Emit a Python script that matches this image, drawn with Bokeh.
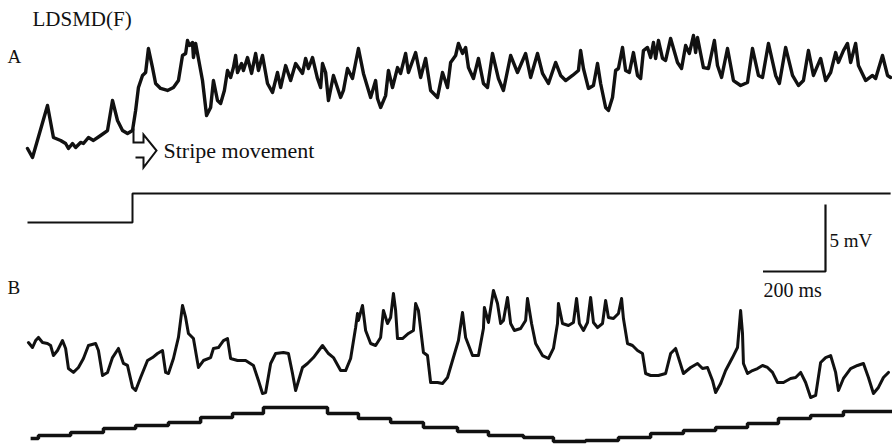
from bokeh.plotting import figure
from bokeh.models import Range1d, Label
from bokeh.embed import file_html
from bokeh.resources import INLINE

# ---------------- data (time in ms, potential in mV) ----------------
trace_a_t = [0, 16, 64, 83, 106, 122, 131, 144, 154, 170, 179, 195, 211, 234, 256, 272, 288, 304, 320, 336,
             346, 355, 368, 378, 387, 400, 410, 426, 448, 467, 483, 496, 506, 512, 518, 528, 531, 538, 547, 560,
             573, 586, 595, 608, 618, 630, 640, 650, 659, 666, 672, 685, 691, 704, 717, 730, 739, 752, 768, 784,
             800, 810, 826, 842, 858, 880, 890, 899, 912, 928, 938, 944, 954, 963, 979, 1002, 1011, 1024, 1040, 1059,
             1075, 1098, 1114, 1120, 1130, 1146, 1155, 1168, 1184, 1194, 1210, 1219, 1242, 1258, 1274, 1290, 1312, 1328, 1344, 1354,
             1370, 1379, 1392, 1402, 1411, 1427, 1443, 1459, 1472, 1488, 1507, 1523, 1546, 1568, 1594, 1610, 1632, 1648, 1667, 1690,
             1706, 1722, 1744, 1763, 1770, 1779, 1795, 1811, 1824, 1834, 1850, 1859, 1872, 1882, 1891, 1904, 1914, 1926, 1939, 1952,
             1962, 1971, 1984, 1994, 2003, 2010, 2019, 2032, 2042, 2058, 2080, 2093, 2106, 2118, 2131, 2138, 2144, 2154, 2163, 2179,
             2198, 2208, 2221, 2240, 2259, 2282, 2304, 2320, 2339, 2352, 2371, 2394, 2406, 2426, 2448, 2467, 2483, 2499, 2515, 2538,
             2554, 2570, 2586, 2595, 2611, 2624, 2634, 2650, 2659, 2682, 2704, 2714, 2736, 2752, 2762]
trace_a_mv = [0.15, -0.52, 3.36, 0.97, 0.75, 0.52, 0.15, 0.52, 0.22, 0.60, 0.52, 0.97, 0.75, 1.12, 1.49, 3.73, 2.24, 1.49, 1.27, 1.49,
              2.99, 4.70, 5.60, 5.82, 7.61, 6.19, 5.00, 4.63, 4.48, 4.70, 5.22, 7.09, 7.24, 8.21, 7.84, 8.06, 6.94, 7.99, 6.87, 5.22,
              2.61, 3.21, 5.22, 3.73, 3.51, 4.48, 5.97, 5.45, 6.19, 7.09, 5.82, 6.49, 5.97, 6.94, 5.75, 7.24, 5.97, 7.09, 5.00, 4.33,
              5.82, 4.70, 6.34, 5.22, 6.49, 5.75, 6.87, 6.12, 6.94, 5.37, 4.70, 6.49, 5.82, 3.73, 5.60, 3.96, 4.48, 6.12, 5.37, 7.61,
              5.75, 3.96, 5.22, 3.88, 3.21, 4.10, 5.97, 4.70, 6.19, 5.75, 7.24, 5.82, 7.31, 5.45, 6.87, 4.48, 3.96, 5.82, 4.70, 6.57,
              7.09, 7.99, 7.24, 7.69, 6.19, 5.37, 6.87, 5.00, 4.70, 7.24, 5.37, 4.48, 7.09, 5.82, 7.24, 5.45, 7.24, 5.75, 5.00, 6.57,
              5.60, 5.22, 5.60, 5.97, 7.46, 6.12, 4.63, 4.85, 6.49, 5.00, 3.21, 2.99, 3.96, 5.97, 6.12, 7.69, 5.97, 5.82, 7.31, 5.60,
              5.37, 7.46, 7.69, 6.94, 8.06, 6.87, 8.21, 6.87, 6.72, 8.36, 6.57, 6.12, 7.84, 7.24, 8.58, 7.31, 8.43, 7.24, 6.19, 6.12,
              8.21, 6.34, 5.45, 7.61, 5.22, 4.85, 5.07, 7.61, 5.60, 5.45, 7.99, 5.60, 5.00, 7.69, 5.60, 4.85, 5.22, 7.46, 5.60, 6.87,
              5.22, 5.82, 7.31, 6.57, 7.46, 7.99, 6.57, 7.99, 6.34, 5.22, 5.60, 5.37, 7.09, 5.60, 5.45]

stim_a_t = [0, 336, 336, 2762]
stim_a_level = [0, 0, 1, 1]          # 0 = stripes stationary, 1 = stripes moving

trace_b_t = [3, 16, 26, 35, 48, 64, 74, 83, 96, 112, 122, 131, 147, 163, 179, 195, 218, 227, 240, 256,
             272, 291, 307, 320, 336, 346, 362, 384, 400, 416, 432, 442, 451, 467, 483, 496, 506, 515, 531, 547,
             563, 586, 595, 611, 627, 640, 650, 672, 698, 723, 739, 752, 762, 778, 794, 819, 835, 848, 858, 880,
             896, 915, 944, 963, 979, 1002, 1018, 1034, 1050, 1056, 1059, 1072, 1082, 1098, 1114, 1130, 1139, 1152, 1162, 1171,
             1178, 1184, 1200, 1219, 1235, 1242, 1251, 1267, 1280, 1290, 1312, 1328, 1344, 1360, 1379, 1392, 1402, 1424, 1443, 1459,
             1462, 1475, 1491, 1504, 1514, 1523, 1536, 1546, 1558, 1578, 1594, 1600, 1613, 1626, 1648, 1667, 1683, 1696, 1699, 1712,
             1731, 1747, 1757, 1766, 1779, 1792, 1802, 1811, 1824, 1840, 1850, 1859, 1875, 1891, 1901, 1907, 1920, 1936, 1952, 1968,
             1978, 1994, 2019, 2042, 2058, 2074, 2083, 2099, 2122, 2144, 2160, 2176, 2192, 2202, 2218, 2234, 2256, 2272, 2282, 2288,
             2291, 2304, 2320, 2336, 2352, 2368, 2384, 2400, 2419, 2442, 2458, 2474, 2490, 2506, 2522, 2538, 2554, 2570, 2586, 2595,
             2611, 2634, 2656, 2675, 2691, 2707, 2723, 2739, 2755]
trace_b_mv = [0.22, -0.15, 0.37, 0.60, 0.22, 0.15, 0.00, -0.75, -0.37, 0.37, -0.22, -1.72, -2.01, -1.64, -0.97, 0.00, 0.15, -0.37, -2.24, -2.01,
              -0.90, -0.22, -1.34, -1.49, -3.13, -3.36, -2.39, -1.12, -0.90, -0.60, -0.37, -2.01, -2.09, -0.97, 0.60, 2.99, 2.09, 0.90, 0.52, -1.64,
              -1.12, -0.90, -0.22, -0.15, 0.37, 0.52, -0.97, -1.12, -1.12, -1.49, -2.61, -3.58, -3.51, -1.34, -0.60, -0.52, -0.60, -2.09, -3.36, -1.64,
              -1.34, -0.90, 0.00, -0.60, -0.90, -1.87, -1.87, -0.97, 1.34, 2.39, 1.87, 2.99, 1.12, 0.15, 0.00, 0.60, 2.61, 1.64, 2.09, 3.88,
              2.61, 0.52, 0.52, 0.90, 1.12, 3.13, 2.61, -0.52, -0.75, -2.76, -2.76, -2.84, -2.39, -1.12, 0.37, 2.46, 0.60, -0.75, -0.75, 1.27,
              2.84, 1.72, 4.10, 3.13, 1.64, 1.87, 3.58, 1.64, 1.12, 1.27, 1.87, 3.51, 1.64, 0.15, -0.75, -0.97, -0.22, 1.64, 3.13, 1.64,
              1.49, 1.72, 3.51, 1.64, 1.12, 1.72, 3.58, 1.72, 1.34, 1.64, 3.36, 2.09, 2.01, 2.39, 3.51, 2.01, 0.15, 0.00, -0.37, -0.60,
              -2.09, -2.24, -2.24, -2.09, -0.60, -0.22, -0.90, -2.09, -1.64, -1.34, -1.72, -1.64, -2.61, -3.51, -2.84, -1.87, -0.90, -0.15, 2.61, 0.90,
              -1.34, -2.09, -1.87, -1.72, -1.49, -1.64, -2.01, -2.76, -2.76, -2.46, -2.39, -2.01, -2.76, -3.88, -3.73, -1.27, -0.90, -0.75, -2.01, -3.36,
              -2.46, -1.72, -1.49, -1.34, -2.39, -3.58, -3.13, -2.39, -2.01]

stim_b_t = [10, 35, 138, 243, 346, 451, 554, 656, 755, 858, 960, 1059, 1162, 1267, 1376, 1475, 1587, 1683, 1786, 1891,
            1994, 2099, 2202, 2304, 2403, 2506, 2611, 2768]
stim_b_pos = [0.75, 1.5, 2.25, 3.25, 4.0, 4.75, 6.0, 7.0, 8.5, 8.5, 7.0, 5.75, 4.75, 3.5, 2.5, 1.5, 1.0, 0.0, 0.25, 1.0,
              2.0, 2.75, 3.5, 4.5, 5.75, 6.5, 7.5, 7.5]

scale_ms = 200
scale_mv = 5

# ---------------- layout ----------------
W, H = 892, 444
MS_PER_PX = 3.2
PX_PER_MV = 13.4
X0 = 27          # picture x of t = 0
YA = 150         # picture y of trace A 0 mV
YB = 345         # picture y of trace B 0 mV


def tx(px):
    return (px - X0) * MS_PER_PX


def vy(py):
    return (YA - py) / PX_PER_MV


p = figure(width=W, height=H, output_backend="svg", toolbar_location=None,
           x_range=Range1d(tx(0), tx(W)), y_range=Range1d(vy(H), vy(0)),
           x_axis_location=None, y_axis_location=None, min_border=0)
p.grid.visible = False
p.outline_line_color = None
p.background_fill_color = "white"
p.border_fill_color = "white"

p.extra_y_ranges = {
    "b": Range1d((YB - H) / PX_PER_MV, YB / PX_PER_MV),
    "stimA": Range1d((222 - H) / 29.0, 222 / 29.0),
    "stimB": Range1d((441 - H) / 4.0, 441 / 4.0),
}

INK = "#111111"
p.line(trace_a_t, trace_a_mv, line_color=INK, line_width=3.4, line_join="round", line_cap="round")
p.line(stim_a_t, stim_a_level, y_range_name="stimA", line_color=INK, line_width=2)
p.line(trace_b_t, trace_b_mv, y_range_name="b", line_color=INK, line_width=3, line_join="round", line_cap="round")
p.step(stim_b_t, stim_b_pos, mode="after", y_range_name="stimB", line_color=INK, line_width=3.5)

# scale bar
bx = tx(825)
by = vy(271)
p.line([bx - scale_ms, bx, bx], [by, by, by + scale_mv], line_color=INK, line_width=2.2)

# stripe movement arrow (hollow)
arrow_px = [(133, 128), (133, 142), (143, 142), (143, 134), (156, 150), (143, 167), (143, 157), (135, 157)]
p.line([tx(a) for a, b in arrow_px], [vy(b) for a, b in arrow_px], line_color=INK, line_width=2,
       line_join="miter")

FONT = "Liberation Serif"
TEXT_DY = 7   # alphabetic baseline correction


def lab(text, px, py, size, style="normal"):
    p.add_layout(Label(x=tx(px), y=vy(py - TEXT_DY), text=text, text_font=FONT, text_font_size=f"{size}px",
                       text_color=INK, text_align="left", text_baseline="alphabetic",
                       text_font_style=style))


lab("LDSMD(F)", 32, 25, 21)
lab("A", 7, 63, 19)
lab("Stripe movement", 163, 157, 22)
lab("B", 7, 294, 19)
lab("5 mV", 829, 247, 19)
lab("200 ms", 763, 296, 20)

open("out.html", "w").write(file_html(p, INLINE))
